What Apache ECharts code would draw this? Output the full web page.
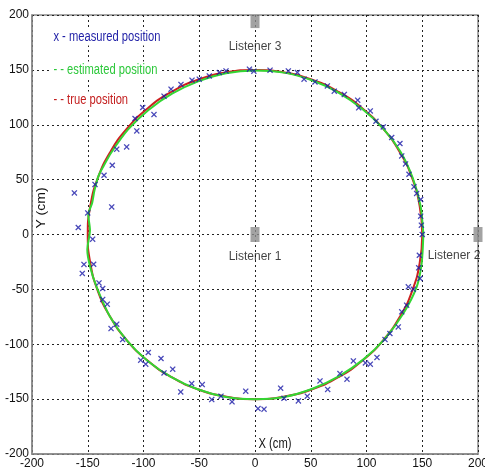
<!DOCTYPE html>
<html><head><meta charset="utf-8">
<script src="https://cdn.jsdelivr.net/npm/echarts@6/dist/echarts.min.js"></script>
<style>html,body{margin:0;padding:0;background:#fff}#c{width:485px;height:472px}</style>
</head><body><div id="c"></div>
<script>
var FONT = '"Liberation Sans",Arial,Helvetica,sans-serif';
var xTicks = [-200, -150, -100, -50, 0, 50, 100, 150, 200];
var yTicks = [-200, -150, -100, -50, 0, 50, 100, 150, 200];

var truePos = [
  [150,0],[147.7,26],[141,51.3],[129.9,75],[114.9,96.4],[96.4,114.9],[75,129.9],[51.3,141],[26,147.7],
  [0,150],[-26,147.7],[-51.3,141],[-75,129.9],[-96.4,114.9],[-114.9,96.4],[-129.9,75],[-141,51.3],[-147.7,26],
  [-150,0],[-147.7,-26],[-141,-51.3],[-129.9,-75],[-114.9,-96.4],[-96.4,-114.9],[-75,-129.9],[-51.3,-141],[-26,-147.7],
  [0,-150],[26,-147.7],[51.3,-141],[75,-129.9],[96.4,-114.9],[114.9,-96.4],[129.9,-75],[141,-51.3],[147.7,-26],[150,0]
];

var estimatedPos = [
  [151,0],[148.5,26],[141.5,51.5],[130.5,75.5],[115,96.5],[96,114.5],[74.5,129.5],[51,140.5],[26,147.5],
  [0,149.5],[-26,147],[-51,139.5],[-74,128.5],[-95.5,113.5],[-114,95.5],[-129,74.5],[-136,62],[-140.5,53],
  [-144,40],[-146,29],[-149.5,18],[-148,4],[-150.4,-14],[-148,-29],[-142,-48],[-130,-75],[-115,-96.5],
  [-96.5,-115],[-75,-130],[-51.5,-141],[-26,-148],[0,-150],[26,-148],[51.5,-140.5],[75.5,-129],[97,-114],
  [116,-95.5],[133,-72],[145,-47.7],[149.5,-26],[151,0]
];

var measuredPos = [
  [-107.6,105.7],[-106,94.4],[-100.7,115.7],[-90.6,109.3],[-81.6,126],[-75.3,132.4],[-66.4,136.7],[-56.5,140.6],
  [-50,141.5],[-41,144.5],[-32,147.6],[-26,149],[-5,150.6],[-1,148.8],
  [13.5,149.7],[29.9,149],[38,147.6],[44,141.5],[53.8,139],[64.9,135.4],[71.1,130.6],[80.1,127.6],[92.1,122.4],
  [93,115.4],[103.4,112.6],[108.5,103.2],[115,98],[122.6,88.4],[130,82.9],[131.6,71.6],[135,64.3],
  [138.1,54.9],[142.6,43.4],[145,37.4],[148.6,31.9],[148.6,16.7],[149.2,8.5],[150,0],[147.4,-18.9],[146.8,-30.4],
  [148,-40.1],[137.5,-47.7],[142,-49.8],[136,-64.4],[131.6,-70.5],[128.5,-84.2],
  [121,-90.2],[116.6,-95.7],[109.4,-112],[103.4,-118.2],[99,-117],[88.2,-115.2],[82.5,-131.8],[76.2,-126.7],
  [65.2,-141.2],[58.3,-133.4],[46.9,-147.3],[38.9,-151.6],[26,-149.2],[23,-140],[8.1,-159.2],[2.7,-158.6],
  [-8.3,-142.8],[-20.6,-152.5],[-30.5,-147.3],[-38.8,-150.4],[-47.3,-136.7],[-56.8,-135.8],[-66.6,-143.4],
  [-73.8,-122.7],[-81.6,-126.1],[-84.3,-113],[-95.7,-107.5],[-98,-118.2],[-102.5,-114.5],[-118.7,-95.7],
  [-124,-81.7],[-129.1,-85.7],
  [-115.1,79.8],[-124,77.7],[-128,63.1],[-135.4,54],[-143.5,45.6],[-162,37.9],[-128.5,25.1],[-150,19.7],
  [-158.5,6.4],[-145.6,-4.3],[-153.4,-27.3],[-144.7,-27.1],[-154.9,-35.5],[-139.9,-44.1],[-136.6,-49.2],
  [-136.6,-59.2],[-132.5,-63.5]
];

var listeners = [
  {name: 'Listener 1', pos: [0, 0]},
  {name: 'Listener 2', pos: [200, 0]},
  {name: 'Listener 3', pos: [0, 194]}
];

var legendTexts = [
  {text: 'x - measured position', color: '#1f1fa6'},
  {text: '- - estimated position', color: '#2cc83a'},
  {text: '- - true position', color: '#c42020'}
];

var XSYM = 'path://M0,1.5L1.5,0L5,3.5L8.5,0L10,1.5L6.5,5L10,8.5L8.5,10L5,6.5L1.5,10L0,8.5L3.5,5Z';

function narrowText(txt, x, y, color, extra) {
  return {type: 'text', x: x, y: y, scaleX: 0.8, z: 100,
    style: Object.assign({text: txt, fill: color, font: '14px ' + FONT, verticalAlign: 'middle'}, extra || {})};
}

var chart = echarts.init(document.getElementById('c'));
var gridLine = {show: true, lineStyle: {color: '#222', type: [2, 3], width: 1}};
var axisCommon = {
  type: 'value', min: -200, max: 200, interval: 50,
  axisLine: {show: true, onZero: false, lineStyle: {color: '#8a8a8a', width: 1.5}},
  axisTick: {show: false},
  splitLine: gridLine
};

var yLab = narrowText('Y (cm)', 42, 208, '#111', {align: 'center'});
yLab.rotation = Math.PI / 2; yLab.scaleX = 1; yLab.scaleY = 0.85;

var legendBg = {backgroundColor: '#fff', padding: [2, 3, 1, 3]};

var option = {
  animation: false,
  backgroundColor: '#fff',
  grid: {left: 32, right: 7, top: 15, bottom: 18, containLabel: false, outerBoundsMode: 'none',
         show: true, borderColor: '#8a8a8a', borderWidth: 1.5, backgroundColor: 'transparent'},
  xAxis: Object.assign({}, axisCommon, {
    axisLabel: {color: '#111', fontFamily: FONT, fontSize: 12, margin: 4,
      formatter: function (v) { return xTicks.indexOf(v) >= 0 ? String(v) : ''; }}
  }),
  yAxis: Object.assign({}, axisCommon, {
    axisLabel: {color: '#111', fontFamily: FONT, fontSize: 12, margin: 3,
      formatter: function (v) { return yTicks.indexOf(v) >= 0 ? String(v) : ''; }}
  }),
  graphic: [
    narrowText(legendTexts[0].text, 51, 37, legendTexts[0].color, legendBg),
    narrowText(legendTexts[1].text, 51, 70, legendTexts[1].color, legendBg),
    narrowText(legendTexts[2].text, 51, 100, legendTexts[2].color, legendBg),
    yLab,
    narrowText('X (cm)', 275, 444, '#111', {align: 'center'})
  ],
  series: [
    {type: 'line', data: truePos, smooth: true, showSymbol: false, symbol: 'none',
      lineStyle: {color: '#cc2020', width: 2}, z: 3},
    {type: 'line', data: estimatedPos, smooth: 0.25, showSymbol: false, symbol: 'none',
      lineStyle: {color: '#33d633', width: 2}, z: 4},
    {type: 'scatter', data: measuredPos, symbol: XSYM, symbolSize: 6,
      itemStyle: {color: '#1a1aa8'}, z: 5},
    {type: 'scatter', clip: false, z: 6,
      data: listeners.map(function (l, i) {
        var lab;
        if (i === 0) lab = {show: true, position: 'bottom', distance: 9};
        else if (i === 1) lab = {show: true, position: 'bottom', distance: 8, offset: [-24, 0]};
        else lab = {show: true, position: 'bottom', distance: 13};
        return {value: l.pos, name: l.name, symbolSize: i === 2 ? [9, 13] : [9, 15], label: lab};
      }),
      symbol: 'rect',
      itemStyle: {color: '#8c8c8c'},
      label: {formatter: '{b}', color: '#111', fontFamily: FONT, fontSize: 12}
    }
  ]
};
chart.setOption(option);
</script>
</body></html>
